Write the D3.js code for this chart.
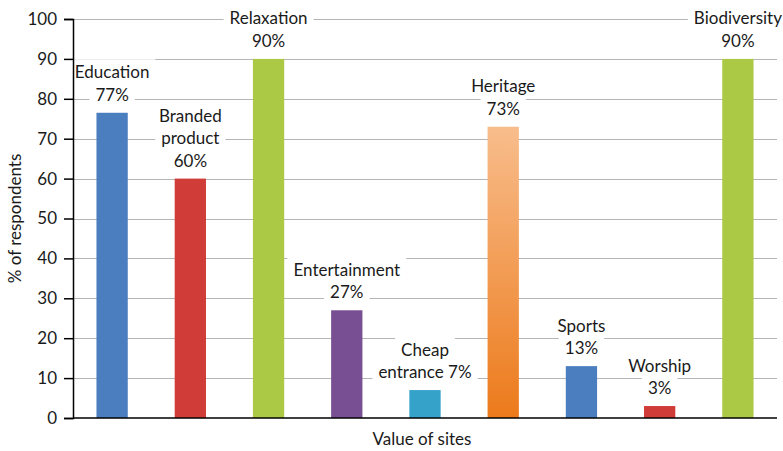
<!DOCTYPE html>
<html>
<head>
<meta charset="utf-8">
<script src="https://cdn.jsdelivr.net/npm/d3@7"></script>
<style>
  body { margin: 0; background: #fff; }
  text { font-family: Lato, "Open Sans", sans-serif; fill: #1a1a1a; }
</style>
</head>
<body>
<div class="container"></div>
<script>
const w = 783;
const h = 451;
const margin = { top: 19, bottom: 33, left: 73, right: 6 };

// data
const sites = ['Education', 'Branded product', 'Relaxation', 'Entertainment', 'Cheap entrance',
  'Heritage', 'Sports', 'Worship', 'Biodiversity'];
const share = [76.5, 60, 90, 27, 7, 73, 13, 3, 90];
const labelLines = [
  ['Education', '77%'],
  ['Branded', 'product', '60%'],
  ['Relaxation', '90%'],
  ['Entertainment', '27%'],
  ['Cheap', 'entrance 7%'],
  ['Heritage', '73%'],
  ['Sports', '13%'],
  ['Worship', '3%'],
  ['Biodiversity', '90%']
];
const yTicks = [0, 10, 20, 30, 40, 50, 60, 70, 80, 90, 100];

const colors = ['#4a7ebf', '#d03d39', '#abc944', '#794f93', '#34a2c9', 'url(#heritage)', '#4a7ebf', '#d03d39', '#abc944'];

const width = w - margin.left - margin.right;
const height = h - margin.top - margin.bottom;

const svg = d3.select('.container').append('svg')
  .attr('width', w)
  .attr('height', h);

const grad = svg.append('defs').append('linearGradient')
  .attr('id', 'heritage')
  .attr('x1', 0).attr('y1', 0).attr('x2', 0).attr('y2', 1);
grad.append('stop').attr('offset', '0%').attr('stop-color', '#f8bd8c');
grad.append('stop').attr('offset', '100%').attr('stop-color', '#ec7a1b');

const chart = svg.append('g')
  .attr('transform', `translate(${margin.left}, ${margin.top})`);

const x = d3.scaleBand()
  .domain(sites)
  .range([0, width])
  .paddingInner(0.6)
  .paddingOuter(0.3);

const y = d3.scaleLinear()
  .domain([0, 100])
  .range([height, 0]);

// gridlines
chart.append('g')
  .selectAll('line')
  .data(yTicks.filter(d => d > 0))
  .enter().append('line')
  .attr('x1', 0)
  .attr('x2', width)
  .attr('y1', d => Math.round(y(d)) + 0.5)
  .attr('y2', d => Math.round(y(d)) + 0.5)
  .attr('stroke', '#b5b5b5')
  .attr('stroke-width', 1.2);

// bars
chart.append('g')
  .selectAll('rect')
  .data(share)
  .enter().append('rect')
  .attr('x', (d, i) => x(sites[i]))
  .attr('width', x.bandwidth())
  .attr('y', d => y(d))
  .attr('height', d => height - y(d))
  .attr('fill', (d, i) => colors[i]);

// labels with white backing that hides the gridlines
const lineH = 22.5;
const labels = chart.append('g')
  .selectAll('g')
  .data(labelLines)
  .enter().append('g')
  .attr('transform', (d, i) => `translate(${x(sites[i]) + x.bandwidth() / 2}, ${y(share[i]) - 12})`);

labels.each(function(lines) {
  const g = d3.select(this);
  const n = lines.length;
  lines.forEach((txt, j) => {
    const t = g.append('text')
      .attr('y', -(n - 1 - j) * lineH)
      .attr('text-anchor', 'middle')
      .attr('font-size', 17)
      .text(txt);
    const bb = t.node().getBBox();
    g.insert('rect', 'text')
      .attr('x', bb.x - 6)
      .attr('y', bb.y - 2)
      .attr('width', bb.width + 12)
      .attr('height', bb.height + 4)
      .attr('fill', '#fff');
  });
});

// axes
const yAxis = d3.axisLeft(y)
  .tickValues(yTicks)
  .tickSize(9)
  .tickPadding(7);

const yG = chart.append('g').call(yAxis);
yG.select('.domain').attr('stroke', '#000').attr('stroke-width', 1.5);
yG.selectAll('.tick line').attr('stroke', '#000').attr('stroke-width', 1.5);
yG.selectAll('.tick text')
  .attr('font-size', 17)
  .attr('font-family', 'Lato, sans-serif')
  .attr('fill', '#1a1a1a');

chart.append('line')
  .attr('x1', 0)
  .attr('x2', width)
  .attr('y1', height)
  .attr('y2', height)
  .attr('stroke', '#000')
  .attr('stroke-width', 1.5);

svg.append('text')
  .attr('x', margin.left + width / 2 - 3)
  .attr('y', h - 6)
  .attr('text-anchor', 'middle')
  .attr('font-size', 17)
  .text('Value of sites');

svg.append('text')
  .attr('transform', `translate(21, ${margin.top + height / 2}) rotate(-90)`)
  .attr('text-anchor', 'middle')
  .attr('font-size', 17)
  .text('% of respondents');
</script>
</body>
</html>
